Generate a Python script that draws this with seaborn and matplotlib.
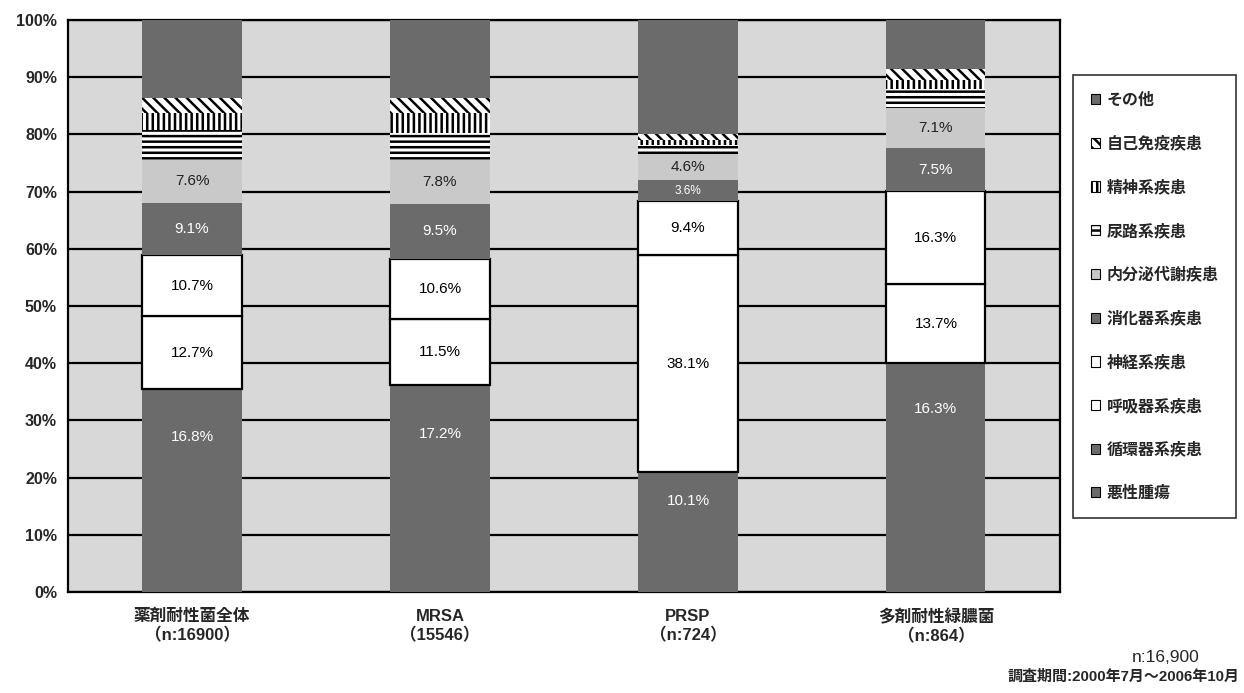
import matplotlib
matplotlib.use("Agg")
import matplotlib.pyplot as plt
import seaborn as sns
import numpy as np
import pandas as pd
from matplotlib.patches import Patch

# Groups of resistant bacteria (x axis)
groups = ["薬剤耐性菌全体\n（n:16900）", "MRSA\n（15546）", "PRSP\n（n:724）", "多剤耐性緑膿菌\n（n:864）"]

# Underlying disease categories, stacked bottom -> top
diseases = ["悪性腫瘍", "循環器系疾患", "呼吸器系疾患", "神経系疾患", "消化器系疾患",
            "内分泌代謝疾患", "尿路系疾患", "精神系疾患", "自己免疫疾患", "その他"]

# Share (%) of each disease per group
malignant = [18.7, 19.0, 10.8, 23.8]
circulatory = [16.8, 17.2, 10.1, 16.3]
respiratory = [12.7, 11.5, 38.1, 13.7]
neuro = [10.7, 10.6, 9.4, 16.3]
digestive = [9.1, 9.5, 3.6, 7.5]
endocrine = [7.6, 7.8, 4.6, 7.1]
urinary = [5.1, 4.7, 1.5, 3.3]
psychiatric = [3.0, 3.4, 0.9, 1.6]
autoimmune = [2.6, 2.6, 1.1, 1.8]
other = [13.7, 13.7, 19.9, 8.6]

series = [malignant, circulatory, respiratory, neuro, digestive,
          endocrine, urinary, psychiatric, autoimmune, other]

# Which layers carry value labels
labelled = {"循環器系疾患", "呼吸器系疾患", "神経系疾患", "消化器系疾患", "内分泌代謝疾患"}

DARK = "#6b6b6b"
LIGHT = "#c9c9c9"
# colour, hatch, outline width of each layer
styles = {
    "悪性腫瘍": (DARK, None, 0),
    "循環器系疾患": (DARK, None, 0),
    "呼吸器系疾患": ("white", None, 1.6),
    "神経系疾患": ("white", None, 1.6),
    "消化器系疾患": (DARK, None, 0),
    "内分泌代謝疾患": (LIGHT, None, 0),
    "尿路系疾患": ("white", "---", 0),
    "精神系疾患": ("white", "|||", 0),
    "自己免疫疾患": ("white", "\\\\\\", 0),
    "その他": (DARK, None, 0),
}
text_color = {DARK: "white", LIGHT: "#222222", "white": "black"}

sns.set_theme(style="white")
plt.rcParams["font.family"] = ["Liberation Sans", "Noto Sans CJK JP"]
plt.rcParams["hatch.linewidth"] = 1.8
plt.rcParams["hatch.color"] = "black"

fig = plt.figure(figsize=(12.44, 6.93), dpi=100)
ax = fig.add_axes([0.0547, 0.1457, 0.7973, 0.8253])
ax.set_facecolor("#d8d8d8")

df = pd.DataFrame({"group": groups})
bottom = np.zeros(len(groups))
handles = []
for name, vals in zip(diseases, series):
    col, hatch, lw = styles[name]
    df["value"] = vals
    sns.barplot(data=df, x="group", y="value", order=groups, ax=ax,
                bottom=bottom.copy(), color=col, hatch=hatch,
                edgecolor="black", linewidth=lw, width=0.4,
                saturation=1, errorbar=None, zorder=3)
    if name in labelled:
        for i, v in enumerate(vals):
            ax.text(i, bottom[i] + v / 2, f"{v:.1f}%", ha="center", va="center",
                    fontsize=11 if v > 4 else 8.5, color=text_color[col],
                    zorder=5)
    handles.append(Patch(facecolor=col, hatch=hatch,
                         edgecolor="black", linewidth=0.8, label=name))
    bottom += np.array(vals)

ax.set_ylim(0, 100)
ax.set_xlim(-0.5, len(groups) - 0.5)
ax.set_yticks(np.arange(0, 101, 10))
ax.set_yticklabels([f"{t}%" for t in range(0, 101, 10)], fontsize=11.5,
                   fontweight="bold")
ax.set_xticklabels(groups, fontsize=12, fontweight="bold", linespacing=1.25)
ax.set_xlabel("")
ax.set_ylabel("")
ax.tick_params(axis="y", length=0, pad=8)
ax.tick_params(axis="x", length=0, pad=12)
ax.yaxis.grid(True, color="black", linewidth=1.6, zorder=0)
ax.set_axisbelow(True)
for sp in ax.spines.values():
    sp.set_visible(True)
    sp.set_color("black")
    sp.set_linewidth(1.6)

leg = fig.legend(handles=handles[::-1], loc="upper left",
                 bbox_to_anchor=(1073 / 1244, 1 - 75 / 693),
                 frameon=True, fancybox=False, edgecolor="black",
                 fontsize=11.5, handlelength=0.6, handleheight=0.6,
                 handletextpad=0.4, labelspacing=1.75, borderpad=1.1,
                 borderaxespad=0)
leg.get_frame().set_linewidth(1.2)
for t in leg.get_texts():
    t.set_fontweight("bold")

fig.text(1200 / 1244, 1 - 657 / 693, "n:16,900", ha="right", va="center",
         fontsize=12.5)
fig.text(1240 / 1244, 1 - 677 / 693, "調査期間:2000年7月～2006年10月",
         ha="right", va="center", fontsize=10.8, fontweight="bold")

fig.savefig("out.png", dpi=100)
